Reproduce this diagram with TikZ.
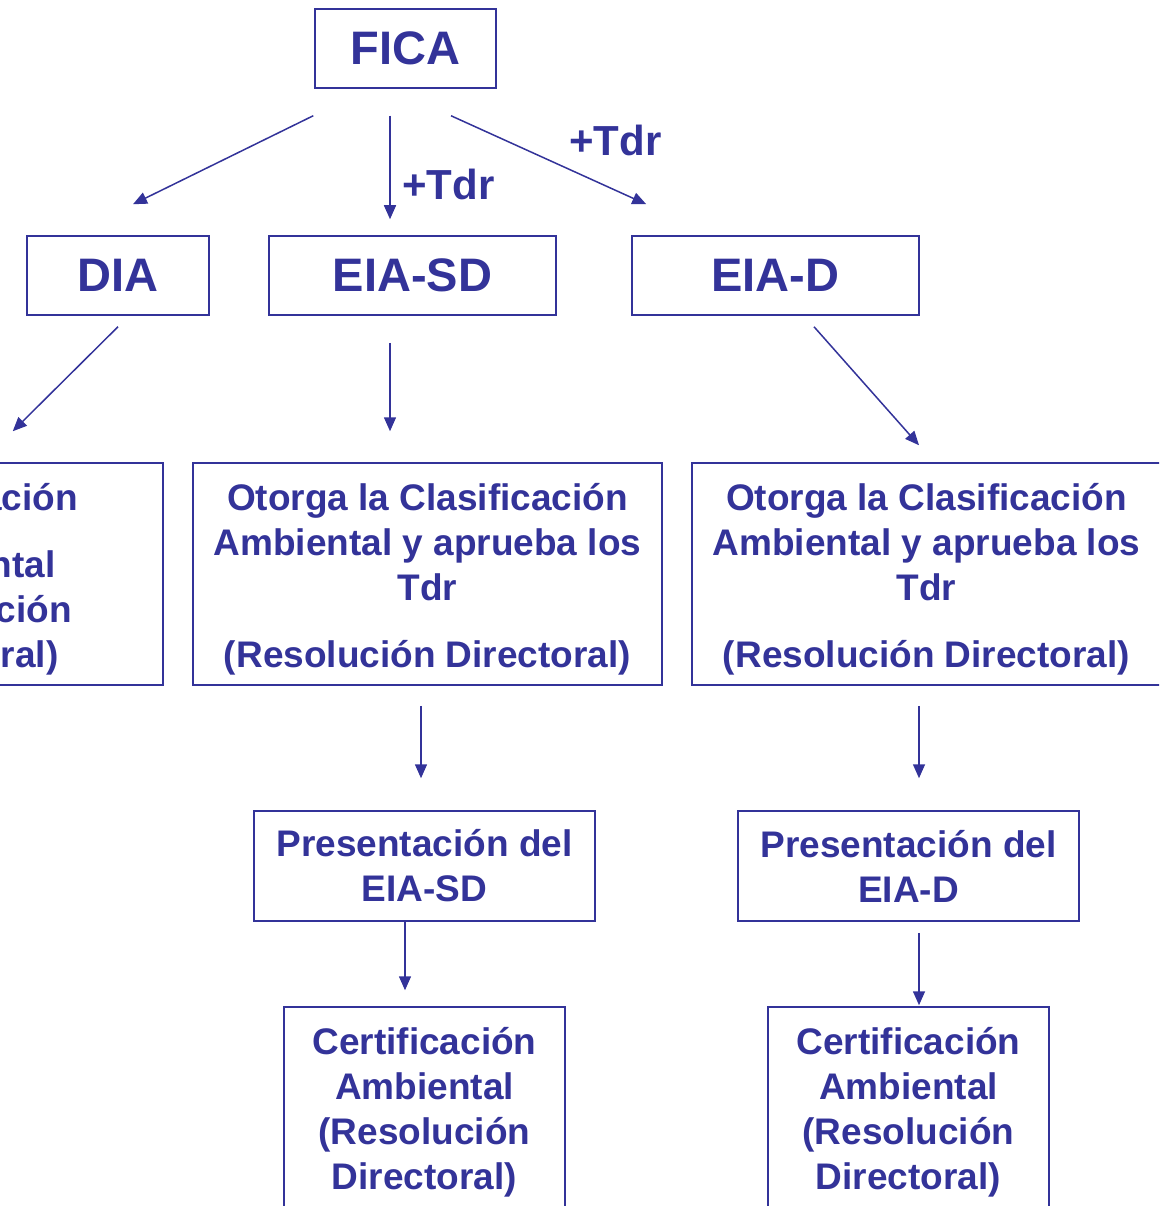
\documentclass[tikz,border=0pt]{standalone}
\usepackage{fontspec}
\setmainfont{Liberation Sans}
\usetikzlibrary{arrows.meta,calc}
\definecolor{azul}{HTML}{333399}
\lineskiplimit=-100pt
\tikzset{
caja/.style={
  rectangle,
  draw=azul,
  line width=1.5pt,
  text=azul,
  inner sep=0pt,
  align=center,
  font=\bfseries\fontsize{37}{45}\selectfont,
  }
}
\tikzset{
titulo/.style={
  caja,
  minimum height=79pt,
  font=\bfseries\fontsize{47}{56}\selectfont,
  }
}
\tikzset{
flecha/.style={
  line width=1.5pt,
  draw=azul,
  -{Triangle[length=14pt,width=12pt]}
  }
}
\tikzset{
etiqueta/.style={
  text=azul,
  inner sep=0pt,
  anchor=base west,
  font=\bfseries\fontsize{42}{50}\selectfont,
  }
}
\begin{document}
\begin{tikzpicture}[x=1pt,y=-1pt]
    \useasboundingbox (0,0) rectangle (1159,1206);
    \clip (0,0) rectangle (1159,1206);
    \node[titulo, minimum width=181pt] (fica) at (405.5,48.5) {FICA};
    \node[titulo, minimum width=182pt] (dia) at (118,275.5) {DIA};
    \node[titulo, minimum width=287pt] (eiasd) at (412.5,275.5) {EIA-SD};
    \node[titulo, minimum width=287pt] (eiad) at (775.5,275.5) {EIA-D};
    \node[etiqueta] (tdrsd) at (402,200) {+Tdr};
    \node[etiqueta] (tdrd) at (569,156) {+Tdr};
    % segundo nivel
    \node[caja, minimum width=394pt, minimum height=222pt] (certdia) at (-34,574)
        {\rule{0pt}{37pt}Certificación\\[22pt]Ambiental\\(Resolución\\Directoral)};
    \node[caja, minimum width=469pt, minimum height=222pt] (clasd) at (427.5,574)
        {\rule{0pt}{37pt}Otorga la Clasificación\\Ambiental y aprueba los\\Tdr\\[22pt](Resolución Directoral)};
    \node[caja, minimum width=469pt, minimum height=222pt] (clad) at (926.5,574)
        {\rule{0pt}{37pt}Otorga la Clasificación\\Ambiental y aprueba los\\Tdr\\[22pt](Resolución Directoral)};
    \node[caja, minimum width=341pt, minimum height=110pt] (presd) at (424.5,866)
        {Presentación del\\EIA-SD};
    \node[caja, minimum width=341pt, minimum height=110pt] (pred) at (908.5,866)
        {Presentación del\\EIA-D};
    \node[caja, minimum width=281pt, minimum height=201pt] (certsd) at (424.5,1107.5)
        {\rule{0pt}{37pt}Certificación\\Ambiental\\(Resolución\\Directoral)};
    \node[caja, minimum width=281pt, minimum height=201pt] (certd) at (908.5,1107.5)
        {\rule{0pt}{37pt}Certificación\\Ambiental\\(Resolución\\Directoral)};
    \draw[flecha] ($(fica.south west)+(-1,27)$) -- ($(dia.north)+(15,-31)$);
    \draw[flecha] ($(fica.south)+(-15.5,27)$) -- ($(eiasd.north)+(-22.5,-16)$);
    \draw[flecha] ($(fica.south)+(45.5,27)$) -- ($(eiad.north west)+(15,-31)$);
    \draw[flecha] ($(dia.south)+(0,11)$) -- ($(certdia.north east)+(-151,-31)$);
    \draw[flecha] ($(eiasd.south)+(-22.5,27)$) -- ($(clasd.north)+(-37.5,-31)$);
    \draw[flecha] ($(eiad.south)+(38.5,11)$) -- ($(clad.north)+(-7.5,-17)$);
    \draw[flecha] ($(clasd.south)+(-6.5,20)$) -- ($(presd.north)+(-3.5,-32)$);
    \draw[flecha] ($(clad.south)+(-7.5,20)$) -- ($(pred.north)+(10.5,-32)$);
    \draw[flecha] ($(presd.south)+(-19.5,0)$) -- ($(certsd.north)+(-19.5,-16)$);
    \draw[flecha] ($(pred.south)+(10.5,11)$) -- ($(certd.north)+(10.5,-1)$);
\end{tikzpicture}
\end{document}
